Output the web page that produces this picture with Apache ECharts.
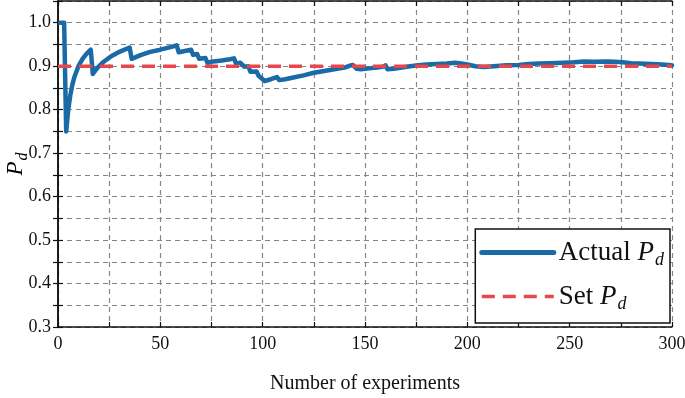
<!DOCTYPE html>
<html>
<head>
<meta charset="utf-8">
<script src="https://cdn.jsdelivr.net/npm/echarts@6/dist/echarts.min.js"></script>
<style>
  html, body { margin: 0; padding: 0; background: #fff; }
  #chart { width: 685px; height: 398px; }
</style>
</head>
<body>
<div id="chart"></div>
<script>
/* ------------------------------------------------------------------ */
/*                         Pd vs. experiments                          */
/* ------------------------------------------------------------------ */

// experiment index where the curve was read
const experiments = [
  1, 3, 4, 5, 6, 7, 8, 10, 12, 14, 16, 17, 19, 22, 26, 30, 35, 36, 40, 45,
  50, 55, 58, 59, 62, 65, 66, 68, 69, 72, 73, 76, 80, 84, 86, 87, 89, 91, 93, 94,
  97, 98, 100, 101, 104, 107, 108, 111, 115, 120, 125, 130, 135, 140, 143, 144, 146, 148, 152, 156,
  159, 160, 161, 164, 168, 172, 176, 180, 185, 190, 194, 197, 200, 204, 208, 213, 219, 225, 230, 235,
  240, 247, 252, 257, 262, 268, 272, 276, 280, 284, 290, 295, 300,
];
// actual Pd
const actualPd = [
  1.0, 1.0, 0.75, 0.8, 0.833, 0.857, 0.875, 0.9, 0.917, 0.929, 0.938, 0.882, 0.895, 0.909, 0.923, 0.933, 0.943, 0.917, 0.925, 0.933,
  0.938, 0.944, 0.948, 0.932, 0.935, 0.938, 0.926, 0.928, 0.917, 0.919, 0.908, 0.911, 0.913, 0.916, 0.918, 0.906, 0.908, 0.899, 0.9, 0.887,
  0.888, 0.878, 0.87, 0.866, 0.87, 0.875, 0.868, 0.87, 0.874, 0.879, 0.885, 0.889, 0.893, 0.897, 0.902, 0.903, 0.894, 0.893, 0.895, 0.897,
  0.899, 0.902, 0.893, 0.894, 0.897, 0.9, 0.902, 0.904, 0.905, 0.906, 0.908, 0.906, 0.904, 0.9, 0.898, 0.9, 0.902, 0.903, 0.905, 0.906,
  0.907, 0.908, 0.909, 0.911, 0.91, 0.911, 0.91, 0.909, 0.907, 0.906, 0.905, 0.904, 0.902,
];
// set Pd (red dashed reference)
const setX = [0, 300];
const setPd = [0.9, 0.9];

const xTicks = [0, 50, 100, 150, 200, 250, 300];
const yTicks = [0.3, 0.4, 0.5, 0.6, 0.7, 0.8, 0.9, 1.0];

const FONT = 'Liberation Serif';
const BLUE = '#1a6aa8';
const RED = '#e8474c';
const GRID_GRAY = '#858585';
const HIDDEN = 'rgba(0,0,0,0)';

const pdRich = size => ({
  n: { fontFamily: FONT, fontSize: size, color: '#111' },
  i: { fontFamily: FONT, fontSize: size, fontStyle: 'italic', color: '#111' },
  s: { fontFamily: FONT, fontSize: Math.round(size * 0.68), fontStyle: 'italic', color: '#111', padding: [Math.round(size * 0.55), 0, 0, 1] },
});

const frameAxis = {
  axisLine: { show: true, lineStyle: { color: '#111', width: 1.5 } },
  axisTick: { show: true, inside: true, length: 5, lineStyle: { color: '#111', width: 1.2 } },
  axisLabel: { show: false },
  splitLine: { show: false },
};

const chart = echarts.init(document.getElementById('chart'));

chart.setOption({
  animation: false,
  grid: { left: 58, right: 13, top: 1, bottom: 71, outerBoundsMode: 'none', containLabel: false },
  // y-axis title placed by hand so it sits where the reference has it
  graphic: [
    {
      type: 'text',
      x: 16,
      y: 164,
      rotation: Math.PI / 2,
      style: {
        text: '{i|P}{s|d}',
        rich: pdRich(23),
        align: 'center',
        verticalAlign: 'middle',
      },
    },
  ],
  legend: {
    show: true,
    right: 15,
    top: 229,
    orient: 'vertical',
    align: 'left',
    backgroundColor: '#fff',
    borderColor: '#111',
    borderWidth: 1.5,
    borderRadius: 0,
    padding: [10, 6, 10, 4],
    itemWidth: 72,
    itemHeight: 20,
    itemGap: 14,
    itemStyle: { color: HIDDEN, borderColor: HIDDEN, borderWidth: 0 },
    textStyle: { rich: pdRich(27) },
    formatter: name => (name === 'Actual' ? '{n|Actual }{i|P}{s|d}' : '{n|Set }{i|P}{s|d}'),
    data: [
      { name: 'Actual', lineStyle: { width: 5 } },
      { name: 'Set', lineStyle: { width: 3.5 } },
    ],
  },
  xAxis: [
    {
      type: 'value',
      min: 0,
      max: 300,
      interval: 25,
      name: 'Number of experiments',
      nameLocation: 'middle',
      nameGap: 47,
      nameTextStyle: { fontFamily: FONT, fontSize: 20, color: '#111' },
      axisLine: { show: true, lineStyle: { color: '#111', width: 1.5 } },
      axisTick: { show: true, inside: true, length: 5, lineStyle: { color: '#111', width: 1.2 } },
      axisLabel: {
        fontFamily: FONT,
        fontSize: 18,
        color: '#111',
        margin: 8,
        formatter: v => (xTicks.includes(v) ? String(v) : ''),
      },
      splitLine: { show: true, lineStyle: { color: GRID_GRAY, type: [5, 4], width: 1.2 } },
    },
    { type: 'value', position: 'top', min: 0, max: 300, interval: 25, ...frameAxis },
  ],
  yAxis: [
    {
      type: 'value',
      min: 0.3,
      max: 1.05,
      interval: 0.05,
      axisLine: { show: true, lineStyle: { color: '#111', width: 1.5 } },
      axisTick: { show: true, inside: true, length: 5, lineStyle: { color: '#111', width: 1.2 } },
      axisLabel: {
        fontFamily: FONT,
        fontSize: 18,
        color: '#111',
        margin: 7,
        formatter: v => {
          const t = yTicks.find(y => Math.abs(y - v) < 1e-6);
          return t === undefined ? '' : t.toFixed(1);
        },
      },
      splitLine: { show: true, lineStyle: { color: GRID_GRAY, type: [5, 4], width: 1.2 } },
    },
    { type: 'value', position: 'right', min: 0.3, max: 1.05, interval: 0.05, ...frameAxis },
  ],
  series: [
    {
      name: 'Actual',
      type: 'line',
      symbol: 'none',
      z: 3,
      data: experiments.map((x, k) => [x, actualPd[k]]),
      lineStyle: { color: BLUE, width: 4.5, join: 'round', cap: 'round' },
      itemStyle: { color: BLUE },
    },
    {
      name: 'Set',
      type: 'line',
      symbol: 'none',
      z: 4,
      data: setX.map((x, k) => [x, setPd[k]]),
      lineStyle: { color: RED, width: 3.5, type: [13, 8] },
      itemStyle: { color: RED },
    },
  ],
});
</script>
</body>
</html>
